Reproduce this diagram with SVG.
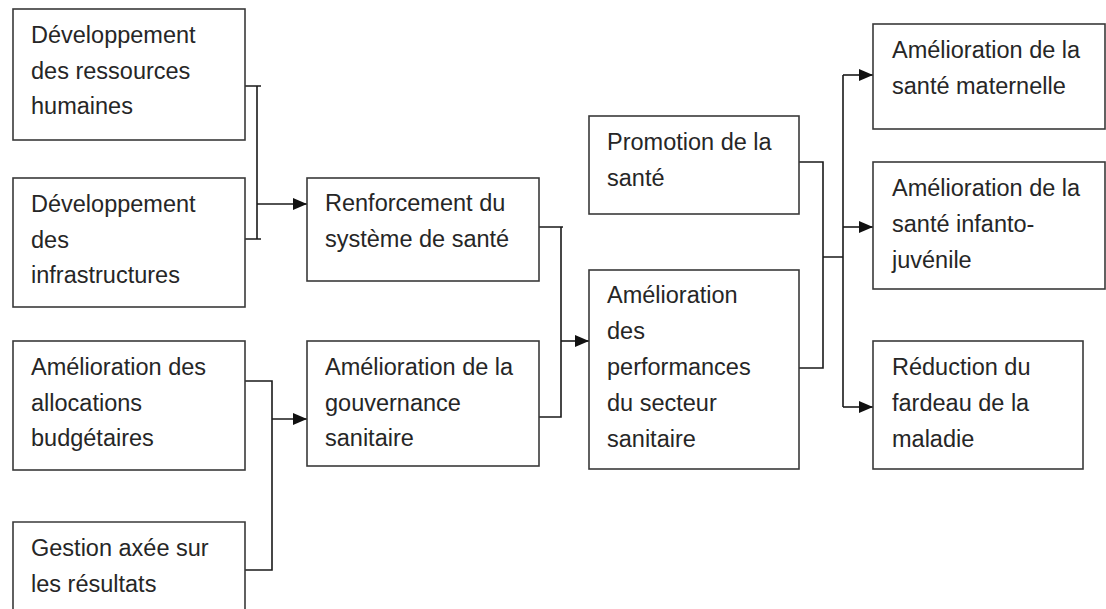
<svg xmlns="http://www.w3.org/2000/svg" width="1106" height="609" viewBox="0 0 1106 609">
<style>
.box{fill:#fff;stroke:#3a3a3a;stroke-width:1.6}
.t{font-family:"Liberation Sans",Arial,sans-serif;font-size:23.5px;fill:#262626}
.c{fill:none;stroke:#1a1a1a;stroke-width:1.6}
</style>
<defs>
<marker id="ah" viewBox="0 0 14 12" refX="14" refY="6" markerWidth="14" markerHeight="12" markerUnits="userSpaceOnUse" orient="auto">
<path d="M0,0 L14,6 L0,12 Z" fill="#111"/>
</marker>
</defs>
<rect width="1106" height="609" fill="#fff"/>
<g id="connectors">
<path class="c" d="M245,86 H261 M257,86 V239 M245,239 H261"/>
<path class="c" d="M257,204 H307" marker-end="url(#ah)"/>
<path class="c" d="M245,381 H272 V570 H245"/>
<path class="c" d="M272,419 H307" marker-end="url(#ah)"/>
<path class="c" d="M539,227 H563 M561,227 V417 H539"/>
<path class="c" d="M561,341 H589" marker-end="url(#ah)"/>
<path class="c" d="M799,162 H823 V368 H799 M823,257 H843 M843,75 V407"/>
<path class="c" d="M843,75 H873" marker-end="url(#ah)"/>
<path class="c" d="M843,227 H873" marker-end="url(#ah)"/>
<path class="c" d="M843,407 H873" marker-end="url(#ah)"/>
</g>
<g id="n-rh"><rect class="box" x="13" y="9" width="232" height="131"/>
<text class="t" x="31" y="43">Développement</text><text class="t" x="31" y="79">des ressources</text><text class="t" x="31" y="114">humaines</text></g>
<g id="n-infra"><rect class="box" x="13" y="178" width="232" height="129"/>
<text class="t" x="31" y="212">Développement</text><text class="t" x="31" y="248">des</text><text class="t" x="31" y="283">infrastructures</text></g>
<g id="n-budget"><rect class="box" x="13" y="341" width="232" height="129"/>
<text class="t" x="31" y="375">Amélioration des</text><text class="t" x="31" y="411">allocations</text><text class="t" x="31" y="446">budgétaires</text></g>
<g id="n-gestion"><path class="box" d="M13,612 V522 H245 V612"/>
<text class="t" x="31" y="556">Gestion axée sur</text><text class="t" x="31" y="592">les résultats</text></g>
<g id="n-renfo"><rect class="box" x="307" y="178" width="232" height="103"/>
<text class="t" x="325" y="211">Renforcement du</text><text class="t" x="325" y="247">système de santé</text></g>
<g id="n-gouv"><rect class="box" x="307" y="341" width="232" height="125"/>
<text class="t" x="325" y="375">Amélioration de la</text><text class="t" x="325" y="411">gouvernance</text><text class="t" x="325" y="446">sanitaire</text></g>
<g id="n-promo"><rect class="box" x="589" y="116" width="210" height="98"/>
<text class="t" x="607" y="150">Promotion de la</text><text class="t" x="607" y="186">santé</text></g>
<g id="n-perf"><rect class="box" x="589" y="270" width="210" height="199"/>
<text class="t" x="607" y="303">Amélioration</text><text class="t" x="607" y="339">des</text><text class="t" x="607" y="375">performances</text><text class="t" x="607" y="411">du secteur</text><text class="t" x="607" y="447">sanitaire</text></g>
<g id="n-mat"><rect class="box" x="873" y="24" width="232" height="105"/>
<text class="t" x="892" y="58">Amélioration de la</text><text class="t" x="892" y="94">santé maternelle</text></g>
<g id="n-inf"><rect class="box" x="873" y="162" width="232" height="127"/>
<text class="t" x="892" y="196">Amélioration de la</text><text class="t" x="892" y="232">santé infanto-</text><text class="t" x="892" y="268">juvénile</text></g>
<g id="n-fard"><rect class="box" x="873" y="341" width="210" height="128"/>
<text class="t" x="892" y="375">Réduction du</text><text class="t" x="892" y="411">fardeau de la</text><text class="t" x="892" y="447">maladie</text></g>
</svg>
